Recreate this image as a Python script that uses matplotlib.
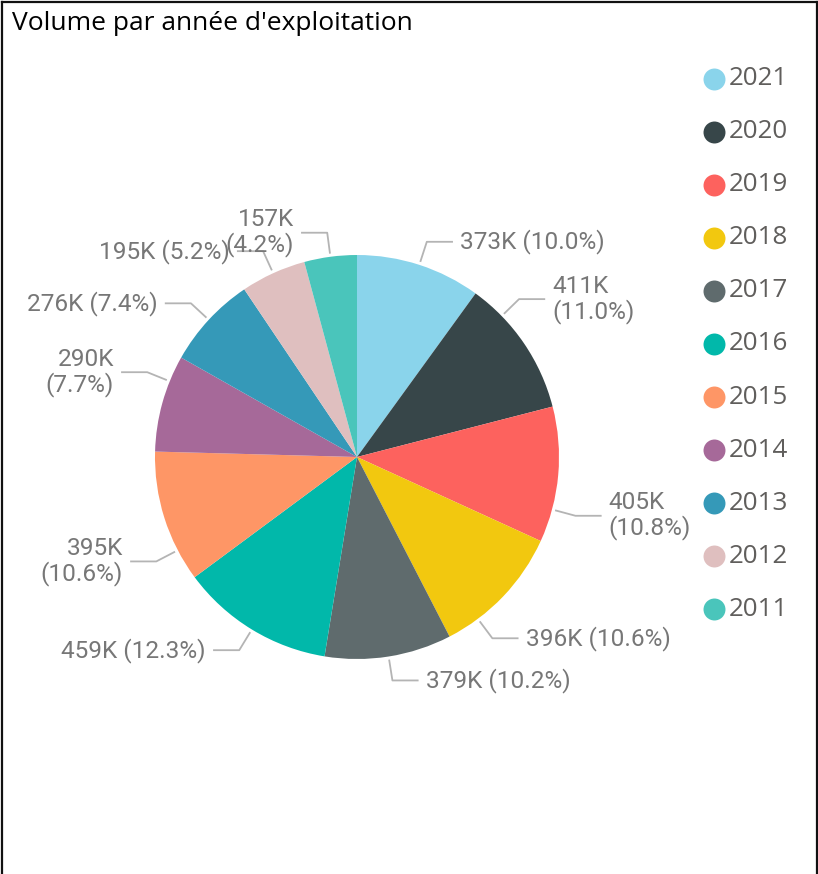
import numpy as np
import matplotlib
matplotlib.use("Agg")
import matplotlib.pyplot as plt
from matplotlib.lines import Line2D

# data
years = ['2021', '2020', '2019', '2018', '2017', '2016', '2015', '2014', '2013', '2012', '2011']
volumes_k = [373, 411, 405, 396, 379, 459, 395, 290, 276, 195, 157]
pct_labels = ['10.0', '11.0', '10.8', '10.6', '10.2', '12.3', '10.6', '7.7', '7.4', '5.2', '4.2']

colors = ['#8AD4EB', '#374649', '#FD625E', '#F2C80F', '#5F6B6D', '#01B8AA',
          '#FE9666', '#A66999', '#3599B8', '#DFBFBF', '#4AC5BB']

# label layout: shift of leader (degrees clockwise) and two-line labels
label_shift = [0, -10, 10, 9.6, 0, 0, -10, 6.5, 0, 0, 0]
two_lines = [False, True, True, False, False, False, True, True, False, False, True]

W, H = 818, 874
fig = plt.figure(figsize=(W / 100, H / 100), dpi=100)

label_font = ['Roboto', 'DejaVu Sans']
ui_font = ['Open Sans', 'DejaVu Sans']

# pie axes, centre at (357, 457) px, radius ~202 px
cx, cy, R = 357, 457, 202
half = 300
ax = fig.add_axes([(cx - half) / W, (H - cy - half) / H, 2 * half / W, 2 * half / H])
wedges, _ = ax.pie(volumes_k, colors=colors, startangle=90, counterclock=False,
                   wedgeprops=dict(linewidth=0))
lim = half / R
ax.set_xlim(-lim, lim)
ax.set_ylim(-lim, lim)
ax.set_aspect('equal')
ax.axis('off')

for w, v, p, sh, two in zip(wedges, volumes_k, pct_labels, label_shift, two_lines):
    phi = np.deg2rad((w.theta1 + w.theta2) / 2 - sh)
    c, s = np.cos(phi), np.sin(phi)
    x0, y0 = 1.02 * c, 1.02 * s
    x1, y1 = 1.12 * c, 1.12 * s
    side = 1 if c >= 0 else -1
    x2 = x1 + side * 0.125
    ax.plot([x0, x1, x2], [y0, y1, y1], color='#b4b4b4', lw=1.3, clip_on=False)
    txt = f'{v}K\n({p}%)' if two else f'{v}K ({p}%)'
    ax.text(x2 + side * 0.04, y1, txt, ha='left' if side > 0 else 'right', va='center',
            multialignment='left' if side > 0 else 'right', linespacing=1.05,
            fontsize=17.6, color='#777777', family=label_font)

# legend drawn on its own axes
lax = fig.add_axes([700 / W, (H - 636) / H, 118 / W, 584 / H])
lax.set_xlim(0, 118)
lax.set_ylim(len(years) - 0.5, -0.5)
lax.axis('off')
for i, (yr, col) in enumerate(zip(years, colors)):
    lax.scatter(14, i, s=250, color=col, linewidths=0)
    lax.text(29, i, yr, ha='left', va='center', fontsize=18.7, color='#605E5C', family=ui_font)

fig.text(12 / W, 1 - 23 / H, "Volume par année d'exploitation", ha='left', va='center',
         fontsize=19, color='#000000', family=ui_font)

# border on left, top and right
bc = '#111111'
fig.add_artist(Line2D([1.5 / W, 1.5 / W], [0, 1 - 1.5 / H], color=bc, lw=1.6, transform=fig.transFigure))
fig.add_artist(Line2D([1.5 / W, 1 - 1.5 / W], [1 - 1.5 / H, 1 - 1.5 / H], color=bc, lw=1.6, transform=fig.transFigure))
fig.add_artist(Line2D([1 - 1.5 / W, 1 - 1.5 / W], [0, 1 - 1.5 / H], color=bc, lw=1.6, transform=fig.transFigure))

fig.savefig('out.png', dpi=100, facecolor='white')
